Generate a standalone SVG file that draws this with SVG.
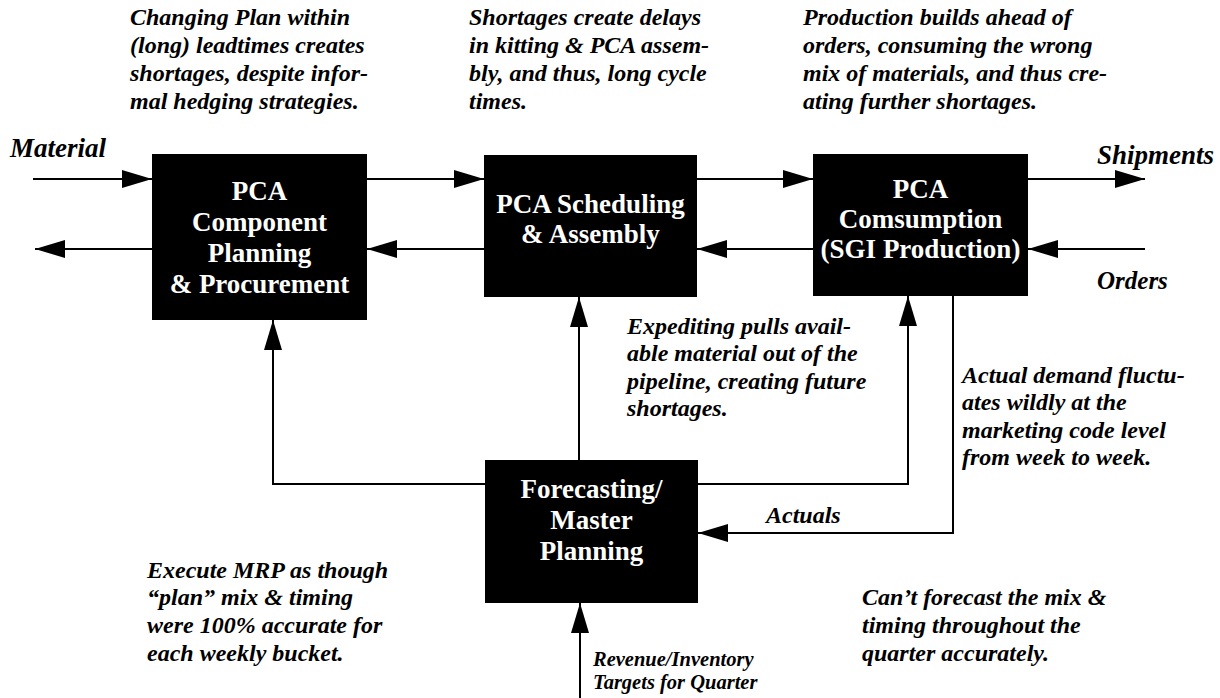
<svg xmlns="http://www.w3.org/2000/svg" width="1220" height="698" viewBox="0 0 1220 698">
<style>
.box{fill:#000}
.bt{font-family:"Liberation Serif",serif;font-weight:bold;font-size:27px;fill:#fff;text-anchor:middle}
.note{font-family:"Liberation Serif",serif;font-weight:bold;font-style:italic;font-size:24px;fill:#000}
.lab{font-family:"Liberation Serif",serif;font-weight:bold;font-style:italic;fill:#000}
.ln{fill:none;stroke:#000;stroke-width:2;marker-end:url(#ah)}
</style>
<defs>
<marker id="ah" markerUnits="userSpaceOnUse" markerWidth="30" markerHeight="18" refX="30" refY="9" orient="auto">
<path d="M0,0 L30,9 L0,18 z" fill="#000"/>
</marker>
</defs>
<rect width="1220" height="698" fill="#fff"/>

<g id="connectors">
<line class="ln" x1="33" y1="179" x2="152" y2="179"/>
<line class="ln" x1="367" y1="179" x2="484" y2="179"/>
<line class="ln" x1="697" y1="179" x2="813" y2="179"/>
<line class="ln" x1="1028" y1="179" x2="1145" y2="179"/>
<line class="ln" x1="1145" y1="249" x2="1028" y2="249"/>
<line class="ln" x1="813" y1="249" x2="697" y2="249"/>
<line class="ln" x1="484" y1="249" x2="367" y2="249"/>
<line class="ln" x1="152" y1="249" x2="35" y2="249"/>
<polyline class="ln" points="485,484 273,484 273,320"/>
<line class="ln" x1="579" y1="460" x2="579" y2="297"/>
<polyline class="ln" points="698,484 908,484 908,296"/>
<polyline class="ln" points="953,296 953,533 698,533"/>
<line class="ln" x1="580" y1="698" x2="580" y2="603"/>
</g>

<g id="node-pca-component">
<rect class="box" x="152" y="154" width="215" height="166"/>
<text class="bt" x="259.5" y="200">PCA</text>
<text class="bt" x="259.5" y="231">Component</text>
<text class="bt" x="259.5" y="262">Planning</text>
<text class="bt" x="259.5" y="293">&amp; Procurement</text>
</g>

<g id="node-pca-scheduling">
<rect class="box" x="484" y="155" width="213" height="142"/>
<text class="bt" x="590.5" y="213">PCA Scheduling</text>
<text class="bt" x="590.5" y="243">&amp; Assembly</text>
</g>

<g id="node-pca-consumption">
<rect class="box" x="813" y="154" width="215" height="142"/>
<text class="bt" x="920.5" y="198">PCA</text>
<text class="bt" x="920.5" y="228">Comsumption</text>
<text class="bt" x="920.5" y="258">(SGI Production)</text>
</g>

<g id="node-forecasting">
<rect class="box" x="485" y="460" width="213" height="143"/>
<text class="bt" x="591.5" y="498">Forecasting/</text>
<text class="bt" x="591.5" y="529">Master</text>
<text class="bt" x="591.5" y="560">Planning</text>
</g>

<g id="labels">
<text class="lab" x="10" y="157" font-size="27">Material</text>
<text class="lab" x="1097" y="164" font-size="27">Shipments</text>
<text class="lab" x="1097" y="289" font-size="25">Orders</text>
<text class="lab" x="766" y="523" font-size="24">Actuals</text>
<text class="lab" x="593" y="666" font-size="20.5">Revenue/Inventory</text>
<text class="lab" x="593" y="689" font-size="20.5">Targets for Quarter</text>
</g>

<g id="notes">
<text class="note" x="130" y="25">Changing Plan within</text>
<text class="note" x="130" y="53">(long) leadtimes creates</text>
<text class="note" x="130" y="81">shortages, despite infor-</text>
<text class="note" x="130" y="109">mal hedging strategies.</text>

<text class="note" x="469" y="25">Shortages create delays</text>
<text class="note" x="469" y="53">in kitting &amp; PCA assem-</text>
<text class="note" x="469" y="81">bly, and thus, long cycle</text>
<text class="note" x="469" y="109">times.</text>

<text class="note" x="803" y="25">Production builds ahead of</text>
<text class="note" x="803" y="53">orders, consuming the wrong</text>
<text class="note" x="803" y="81">mix of materials, and thus cre-</text>
<text class="note" x="803" y="109">ating further shortages.</text>

<text class="note" x="627" y="334">Expediting pulls avail-</text>
<text class="note" x="627" y="361">able material out of the</text>
<text class="note" x="627" y="389">pipeline, creating future</text>
<text class="note" x="627" y="416">shortages.</text>

<text class="note" x="962" y="383">Actual demand fluctu-</text>
<text class="note" x="962" y="410">ates wildly at the</text>
<text class="note" x="962" y="438">marketing code level</text>
<text class="note" x="962" y="465">from week to week.</text>

<text class="note" x="147" y="578">Execute MRP as though</text>
<text class="note" x="147" y="605">“plan” mix &amp; timing</text>
<text class="note" x="147" y="633">were 100% accurate for</text>
<text class="note" x="147" y="661">each weekly bucket.</text>

<text class="note" x="862" y="605">Can’t forecast the mix &amp;</text>
<text class="note" x="862" y="633">timing throughout the</text>
<text class="note" x="862" y="661">quarter accurately.</text>
</g>
</svg>
